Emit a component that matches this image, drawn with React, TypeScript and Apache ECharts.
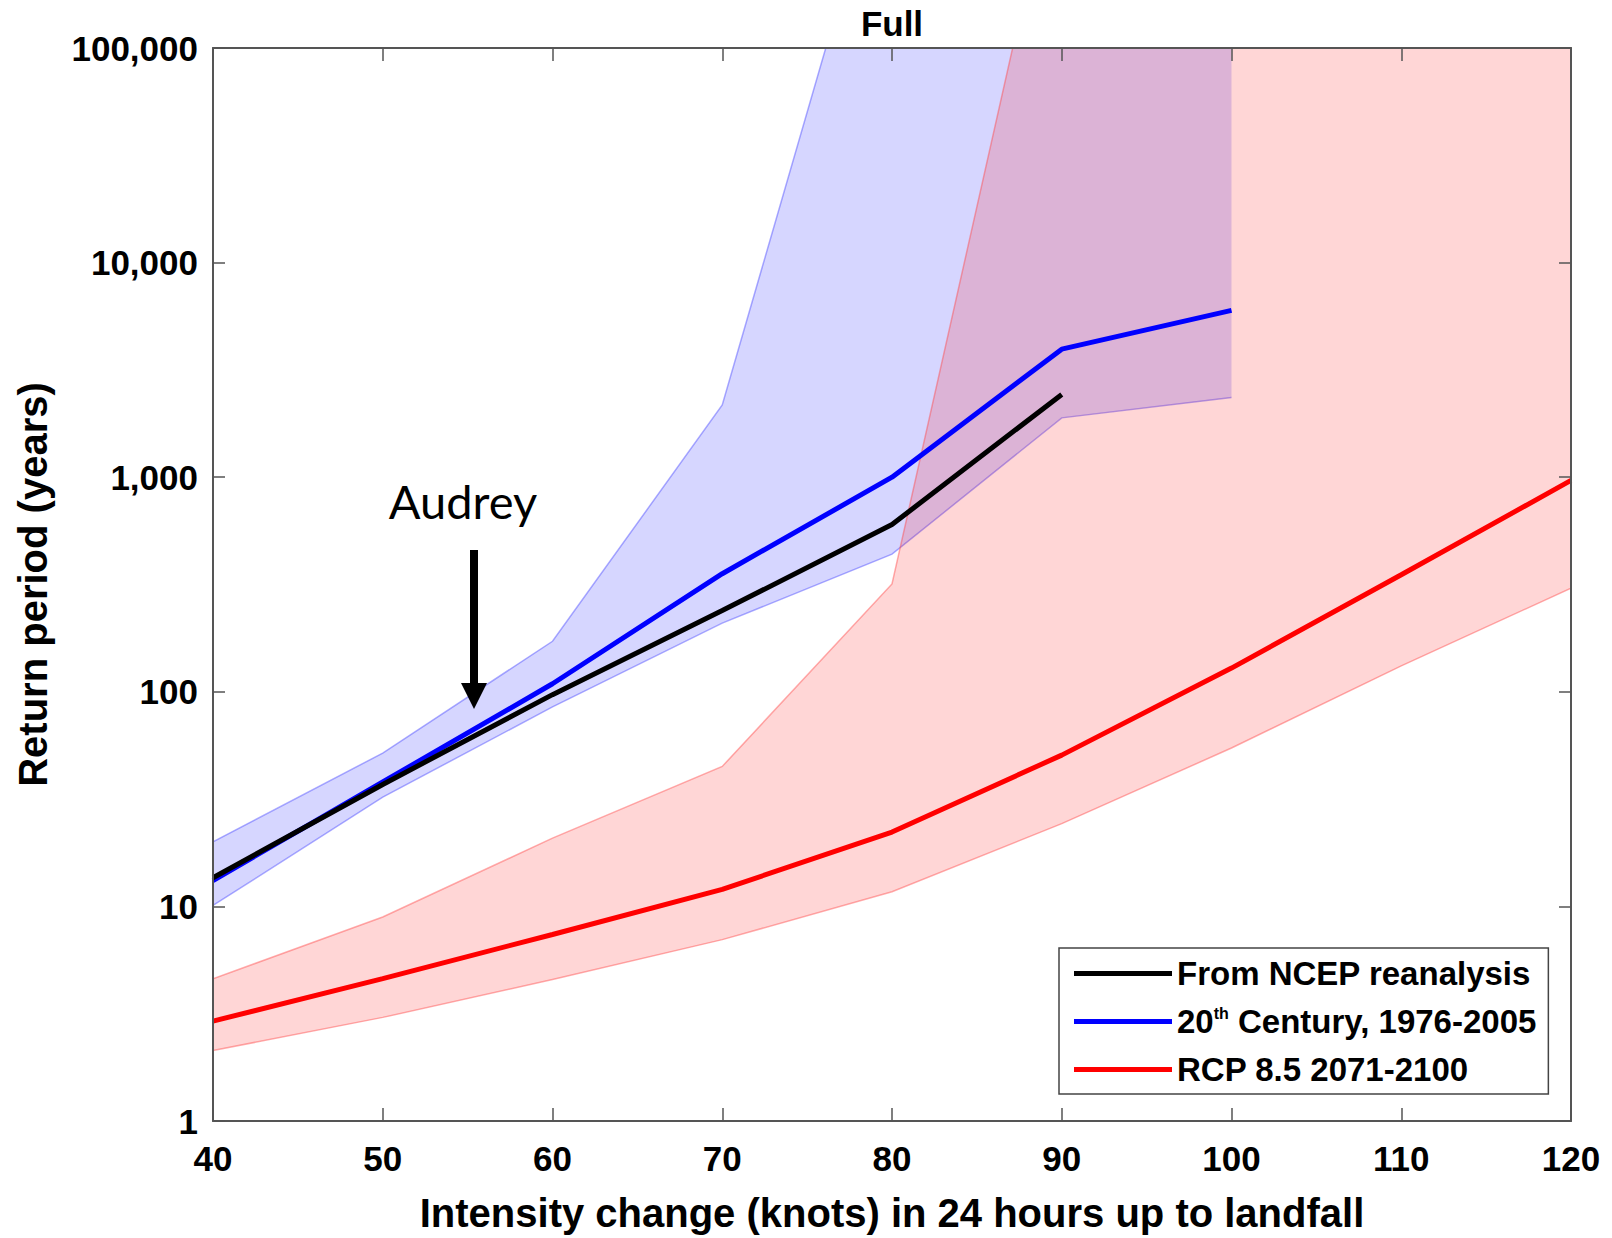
import React, { useEffect, useRef } from "react";
import * as echarts from "echarts";

// ---------- data ----------
const xMin = 40;
const xMax = 120;
const xStep = 10;
const yMin = 1;
const yMax = 100000;

const ncepX = [40, 50, 60, 70, 80, 90];
const ncepY = [13.6, 37, 97, 239, 602, 2430];

const c20X = [40, 50, 60, 70, 80, 90, 100];
const c20Y = [13.2, 38, 109, 355, 1000, 3950, 5990];
const c20Lower = [10.1, 32.3, 85, 209, 438, 1890, 2350];
const c20Upper = [20.0, 51.8, 172, 2170, 1.16e6, 2e6, 3e6];

const rcpX = [40, 50, 60, 70, 80, 90, 100, 110, 120];
const rcpY = [2.92, 4.61, 7.4, 12.0, 22.2, 50.7, 129, 351, 966];
const rcpLower = [2.13, 3.04, 4.56, 7.0, 11.7, 24.3, 54.7, 132, 304];
const rcpUpper = [4.6, 8.92, 20.8, 44.9, 318, 1.04e6, 2e6, 3e6, 4e6];

const seriesNames = [
  "From NCEP reanalysis",
  "20th Century, 1976-2005",
  "RCP 8.5 2071-2100",
];

const FONT = "'Liberation Sans', Arial, Helvetica, sans-serif";

function pairs(xs: number[], ys: number[]) {
  return xs.map((x, i) => [x, ys[i]]);
}

function bandRenderer(
  xs: number[],
  lo: number[],
  hi: number[],
  fill: string,
  edge: string
) {
  return (params: any, api: any) => {
    const upper = xs.map((x, i) => api.coord([x, hi[i]]));
    const lower = xs.map((x, i) => api.coord([x, lo[i]]));
    return {
      type: "group",
      children: [
        {
          type: "polygon",
          shape: { points: upper.concat(lower.slice().reverse()) },
          style: { fill, stroke: "none" },
        },
        {
          type: "polyline",
          shape: { points: upper },
          style: { stroke: edge, lineWidth: 1.5, fill: "none" },
        },
        {
          type: "polyline",
          shape: { points: lower },
          style: { stroke: edge, lineWidth: 1.5, fill: "none" },
        },
      ],
    };
  };
}

export default function App() {
  const ref = useRef<HTMLDivElement>(null);

  useEffect(() => {
    if (!ref.current) return;
    const chart = echarts.init(ref.current, undefined, { renderer: "svg" });

    const axisLineStyle = { color: "#555", width: 2 };
    const tickStyle = { color: "#555", width: 1.5 };

    const option: any = {
      animation: false,
      backgroundColor: "#fff",
      title: {
        text: "Full",
        left: 892,
        top: 6,
        padding: 0,
        textAlign: "center",
        textStyle: {
          fontFamily: FONT,
          fontSize: 35,
          fontWeight: "bold",
          color: "#000",
        },
      },
      grid: {
        left: 213,
        right: 41,
        top: 48,
        bottom: 113,
        containLabel: false,
      },
      legend: {
        data: seriesNames,
        orient: "vertical",
        left: 1059,
        top: 948,
        padding: [9, 12, 8, 15],
        itemGap: 15,
        itemWidth: 98,
        itemHeight: 5,
        icon: "rect",
        backgroundColor: "#fff",
        borderColor: "#444",
        borderWidth: 1.5,
        borderRadius: 0,
        selectedMode: false,
        formatter: (name: string) =>
          name === seriesNames[1] ? "20{sup|th} Century, 1976-2005" : name,
        textStyle: {
          fontFamily: FONT,
          fontSize: 33,
          fontWeight: "bold",
          color: "#000",
          lineHeight: 32,
          rich: {
            sup: {
              fontFamily: FONT,
              fontSize: 16,
              fontWeight: "bold",
              color: "#000",
              verticalAlign: "top",
              lineHeight: 16,
            },
          },
        },
      },
      xAxis: [
        {
          type: "value",
          min: xMin,
          max: xMax,
          interval: xStep,
          position: "bottom",
          z: 10,
          name: "Intensity change (knots) in 24 hours up to landfall",
          nameLocation: "middle",
          nameGap: 72,
          nameTextStyle: {
            fontFamily: FONT,
            fontSize: 40,
            fontWeight: "bold",
            color: "#000",
          },
          axisLine: { show: true, onZero: false, lineStyle: axisLineStyle },
          axisTick: { show: true, inside: true, length: 13, lineStyle: tickStyle },
          axisLabel: {
            fontFamily: FONT,
            fontSize: 35,
            fontWeight: "bold",
            color: "#000",
            margin: 20,
          },
          splitLine: { show: false },
        },
        {
          type: "value",
          min: xMin,
          max: xMax,
          interval: xStep,
          position: "top",
          z: 10,
          axisLine: { show: true, onZero: false, lineStyle: axisLineStyle },
          axisTick: { show: true, inside: true, length: 13, lineStyle: tickStyle },
          axisLabel: { show: false },
          splitLine: { show: false },
        },
      ],
      yAxis: [
        {
          type: "log",
          logBase: 10,
          min: yMin,
          max: yMax,
          position: "left",
          z: 10,
          name: "Return period (years)",
          nameLocation: "middle",
          nameGap: 160,
          nameTextStyle: {
            fontFamily: FONT,
            fontSize: 40,
            fontWeight: "bold",
            color: "#000",
          },
          axisLine: { show: true, onZero: false, lineStyle: axisLineStyle },
          axisTick: { show: true, inside: true, length: 12, lineStyle: tickStyle },
          minorTick: { show: false },
          axisLabel: {
            fontFamily: FONT,
            fontSize: 35,
            fontWeight: "bold",
            color: "#000",
            margin: 15,
            formatter: (v: number) => Math.round(v).toLocaleString("en-US"),
          },
          splitLine: { show: false },
        },
        {
          type: "log",
          logBase: 10,
          min: yMin,
          max: yMax,
          position: "right",
          z: 10,
          axisLine: { show: true, onZero: false, lineStyle: axisLineStyle },
          axisTick: { show: true, inside: true, length: 12, lineStyle: tickStyle },
          axisLabel: { show: false },
          splitLine: { show: false },
        },
      ],
      series: [
        {
          type: "custom",
          name: "c20band",
          xAxisIndex: 0,
          yAxisIndex: 0,
          clip: true,
          silent: true,
          renderItem: bandRenderer(
            c20X,
            c20Lower,
            c20Upper,
            "rgba(0,0,255,0.16)",
            "rgba(70,70,255,0.45)"
          ),
          data: [[c20X[0], c20Lower[0]]],
        },
        {
          type: "custom",
          name: "rcpband",
          xAxisIndex: 0,
          yAxisIndex: 0,
          clip: true,
          silent: true,
          renderItem: bandRenderer(
            rcpX,
            rcpLower,
            rcpUpper,
            "rgba(255,0,0,0.16)",
            "rgba(255,70,70,0.45)"
          ),
          data: [[rcpX[0], rcpLower[0]]],
        },
        {
          type: "line",
          name: seriesNames[1],
          data: pairs(c20X, c20Y),
          symbol: "none",
          color: "#0000ff",
          lineStyle: { color: "#0000ff", width: 5 },
          z: 3,
        },
        {
          type: "line",
          name: seriesNames[0],
          data: pairs(ncepX, ncepY),
          symbol: "none",
          color: "#000000",
          lineStyle: { color: "#000000", width: 5 },
          z: 4,
        },
        {
          type: "line",
          name: seriesNames[2],
          data: pairs(rcpX, rcpY),
          symbol: "none",
          color: "#ff0000",
          lineStyle: { color: "#ff0000", width: 5 },
          z: 4,
        },
      ],
      graphic: [
        {
          type: "text",
          x: 463,
          y: 501,
          z: 20,
          style: {
            text: "Audrey",
            font: "47px Lato, 'Open Sans', sans-serif",
            fill: "#000",
            textAlign: "center",
            textVerticalAlign: "middle",
            align: "center",
            verticalAlign: "middle",
          },
        },
        {
          type: "line",
          z: 20,
          shape: { x1: 474, y1: 550, x2: 474, y2: 688 },
          style: { stroke: "#000", lineWidth: 8 },
        },
        {
          type: "polygon",
          z: 20,
          shape: {
            points: [
              [461, 683],
              [487, 683],
              [474, 709],
            ],
          },
          style: { fill: "#000" },
        },
      ],
    };

    chart.setOption(option);
    return () => chart.dispose();
  }, []);

  return (
    <div
      ref={ref}
      style={{
        position: "fixed",
        left: 0,
        top: 0,
        width: 1612,
        height: 1238,
        background: "#fff",
      }}
    />
  );
}
